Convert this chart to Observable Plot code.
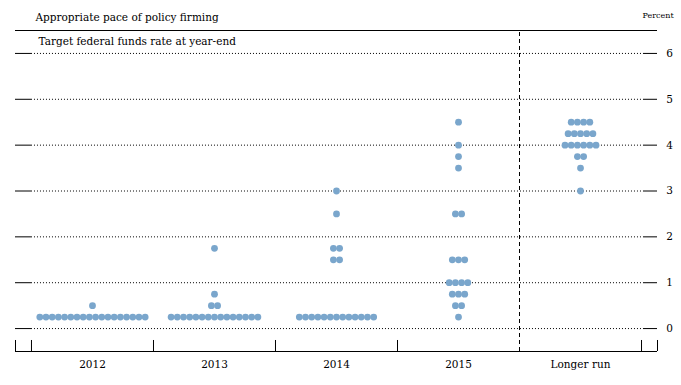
<!DOCTYPE html>
<html><head><meta charset="utf-8">
<script src="https://cdn.jsdelivr.net/npm/d3@7"></script>
<script src="https://cdn.jsdelivr.net/npm/@observablehq/plot@0.6"></script>
<style>body{margin:0;background:#fff}</style>
</head><body><div id="chart"></div>
<script>
const categories = ["2012", "2013", "2014", "2015", "Longer run"];
const levels2012 = [0.25, 0.5];
const counts2012 = [18, 1];
const levels2013 = [0.25, 0.5, 0.75, 1.75];
const counts2013 = [15, 2, 1, 1];
const levels2014 = [0.25, 1.5, 1.75, 2.5, 3.0];
const counts2014 = [13, 2, 2, 1, 1];
const levels2015 = [0.25, 0.5, 0.75, 1.0, 1.5, 2.5, 3.5, 3.75, 4.0, 4.5];
const counts2015 = [1, 2, 3, 4, 3, 2, 1, 1, 1, 1];
const levelsLonger = [3.0, 3.5, 3.75, 4.0, 4.25, 4.5];
const countsLonger = [1, 1, 2, 6, 5, 4];
const yTicks = [0, 1, 2, 3, 4, 5, 6];
const title = "Appropriate pace of policy firming";
const subtitle = "Target federal funds rate at year-end";
const unitLabel = "Percent";

const groups = [
  [levels2012, counts2012],
  [levels2013, counts2013],
  [levels2014, counts2014],
  [levels2015, counts2015],
  [levelsLonger, countsLonger]
];

const xMin = -0.131, xMax = 5.131;
const yMin = -0.5, yMax = 6.5;
const step = 0.0508;

const dots = [];
groups.forEach(([levels, counts], i) => {
  levels.forEach((lv, j) => {
    const n = counts[j];
    for (let k = 0; k < n; k++) {
      dots.push({x: i + 0.5 + (k - (n - 1) / 2) * step, y: lv, cat: categories[i]});
    }
  });
});

const catData = categories.map((c, i) => ({c, x: i + 0.5}));
const font = "DejaVu Serif, Liberation Serif, serif";

const chart = Plot.plot({
  width: 681,
  height: 385,
  marginLeft: 15,
  marginRight: 24,
  marginTop: 30,
  marginBottom: 34,
  style: {fontFamily: font, fontSize: "10px", background: "#fff", color: "#000"},
  x: {type: "linear", domain: [xMin, xMax], axis: null},
  y: {type: "linear", domain: [yMin, yMax], axis: null},
  marks: [
    Plot.ruleY(yTicks, {x1: () => 0, x2: () => 5, stroke: "#000", strokeWidth: 1, strokeDasharray: "1,2"}),
    Plot.ruleY(yTicks, {x1: () => xMin, x2: () => 0, stroke: "#000", strokeWidth: 1}),
    Plot.ruleY(yTicks, {x1: () => 5.016, x2: () => xMax, stroke: "#000", strokeWidth: 1}),
    Plot.text(yTicks, {x: () => xMax, y: d => d, text: d => String(d), dx: 12, textAnchor: "middle", fontSize: 10.5, fill: "#000"}),
    Plot.ruleY([yMax], {x1: () => xMin, x2: () => xMax, stroke: "#000", strokeWidth: 1}),
    Plot.ruleY([yMin], {x1: () => xMin, x2: () => xMax, stroke: "#000", strokeWidth: 1.2}),
    Plot.ruleX([xMin, 0, 1, 2, 3, 5, xMax], {x: d => d, y1: () => yMin, y2: () => yMin + 0.24, stroke: "#000", strokeWidth: 1}),
    Plot.ruleX([4], {x: d => d, y1: () => yMin, y2: () => yMax, stroke: "#000", strokeWidth: 1, strokeDasharray: "4,3"}),
    Plot.text(catData, {x: "x", y: () => yMin, text: "c", dy: 13, lineAnchor: "middle", fontSize: 10.5, fill: "#000"}),
    Plot.dot(dots, {x: "x", y: "y", r: 3.4, fill: "#7aa6cc", stroke: "none"}),
    Plot.text([title], {frameAnchor: "top-left", text: d => d, dx: 20, dy: -13, lineAnchor: "middle", textAnchor: "start", fontSize: 10.5, fill: "#000"}),
    Plot.text([subtitle], {frameAnchor: "top-left", text: d => d, dx: 23, dy: 11, lineAnchor: "middle", textAnchor: "start", fontSize: 10.5, fill: "#000"}),
    Plot.text([unitLabel], {frameAnchor: "top-right", text: d => d, dx: -15, dy: -15, lineAnchor: "middle", textAnchor: "start", fontSize: 8, fill: "#000"})
  ]
});
document.getElementById("chart").appendChild(chart);
</script>
</body></html>
